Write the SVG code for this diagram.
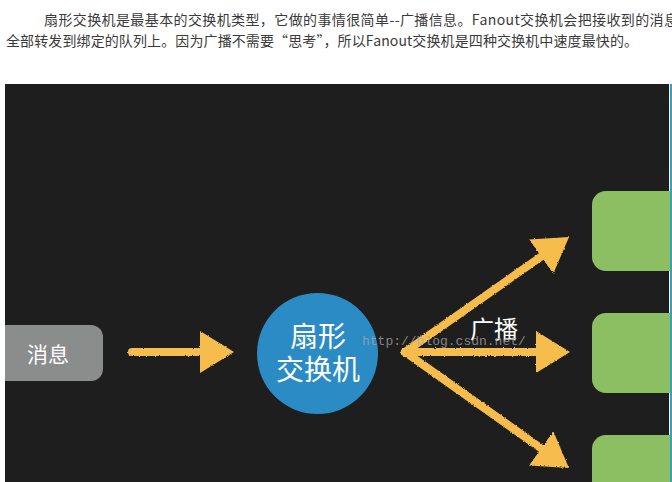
<svg xmlns="http://www.w3.org/2000/svg" width="672" height="482" viewBox="0 0 672 482">
<style>
.hdr{font-family:"Noto Sans CJK SC","Microsoft YaHei",sans-serif;font-size:14px;fill:#3a3a3a}
.lbl{font-family:"Noto Sans CJK SC",sans-serif;fill:#ffffff}
.chalk{stroke:#f6bd4e;stroke-width:8;fill:none;stroke-linecap:round}
.queue{fill:#8bbf62}
.wm{font-family:"Liberation Mono",monospace;font-size:13px;fill:#a8a8a8;fill-opacity:0.75}
</style>
<defs>
<filter id="rough" x="-10%" y="-10%" width="120%" height="120%">
<feTurbulence type="fractalNoise" baseFrequency="0.9" numOctaves="2" seed="3" result="n"/>
<feDisplacementMap in="SourceGraphic" in2="n" scale="2.5" xChannelSelector="R" yChannelSelector="G"/>
</filter>
<marker id="head" viewBox="0 0 34 42" refX="1" refY="21" markerWidth="34" markerHeight="42" markerUnits="userSpaceOnUse" orient="auto">
<path d="M0,0 L34,21 L0,42 Z" fill="#f6bd4e"/>
</marker>
</defs>
<rect x="0" y="0" width="672" height="482" fill="#ffffff"/>
<text class="hdr" x="44" y="25" textLength="634" lengthAdjust="spacing">扇形交换机是最基本的交换机类型，它做的事情很简单--广播信息。Fanout交换机会把接收到的消息</text>
<text class="hdr" x="6" y="46" textLength="632" lengthAdjust="spacing">全部转发到绑定的队列上。因为广播不需要“思考”，所以Fanout交换机是四种交换机中速度最快的。</text>
<rect x="5" y="84" width="664" height="398" fill="#1e1e1e"/>
<g id="msg">
<rect x="-10" y="325" width="113" height="56" rx="12" fill="#8b8d8d"/>
<rect x="0" y="320" width="5" height="66" fill="#ffffff"/>
<text class="lbl" x="48" y="362" font-size="21" text-anchor="middle">消息</text>
</g>
<g id="exchange">
<circle cx="317.5" cy="353.5" r="60.5" fill="#2a8bc5"/>
<text class="lbl" x="318" y="347" font-size="28" text-anchor="middle">扇形</text>
<text class="lbl" x="318" y="380" font-size="28" text-anchor="middle">交换机</text>
</g>
<g id="queue1"><rect class="queue" x="592" y="191" width="100" height="80" rx="14"/></g>
<g id="queue2"><rect class="queue" x="592" y="313" width="100" height="80" rx="14"/></g>
<g id="queue3"><rect class="queue" x="592" y="435" width="100" height="80" rx="14"/></g>
<rect x="670" y="84" width="2" height="398" fill="#3aa0b8"/>
<g id="connectors" filter="url(#rough)">
<line class="chalk" x1="132" y1="352" x2="201" y2="352" marker-end="url(#head)"/>
<line class="chalk" x1="405" y1="352" x2="542" y2="256" marker-end="url(#head)"/>
<line class="chalk" x1="405" y1="352" x2="537" y2="352" marker-end="url(#head)"/>
<line class="chalk" x1="405" y1="352" x2="542" y2="449" marker-end="url(#head)"/>
</g>
<text class="lbl" x="470" y="338" font-size="24">广播</text>
<text class="wm" x="362" y="345">http://blog.csdn.net/</text>
</svg>
